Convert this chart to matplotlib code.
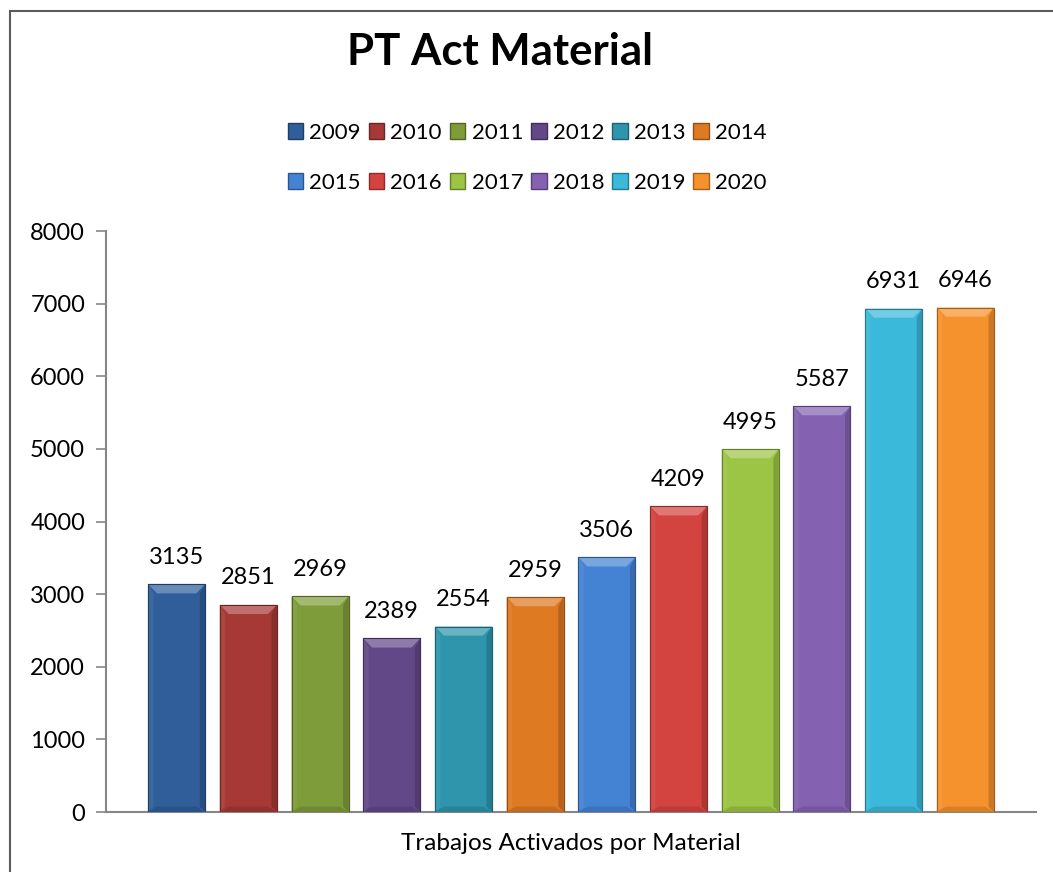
import matplotlib.pyplot as plt
from matplotlib.patches import Polygon, Rectangle, Patch
import matplotlib.colors as mcolors
import numpy as np

plt.rcParams['font.family'] = ['Lato', 'DejaVu Sans']

years = ['2009', '2010', '2011', '2012', '2013', '2014',
         '2015', '2016', '2017', '2018', '2019', '2020']
values = [3135, 2851, 2969, 2389, 2554, 2959, 3506, 4209, 4995, 5587, 6931, 6946]
colors = ['#2F5E9B', '#A63936', '#7F9C3A', '#634887', '#2E95AC', '#DE7A22',
          '#4483D3', '#D34340', '#9CC445', '#8462B1', '#3BB9DA', '#F6922D']
category = 'Trabajos Activados por Material'
title = 'PT Act Material'


def shade(c, f):
    r = np.array(mcolors.to_rgb(c))
    if f > 0:
        r = r + (1 - r) * f
    else:
        r = r * (1 + f)
    return tuple(np.clip(r, 0, 1))


def bevel_bar(ax, x, w, h, c, dx=0.125, dy=125):
    x0, x1 = x - w / 2, x + w / 2
    ax.add_patch(Rectangle((x0, 0), w, h, facecolor=c, edgecolor=shade(c, -0.3), lw=0.8, zorder=2))
    # top facet lighter
    ax.add_patch(Polygon([(x0, h), (x1, h), (x1 - dx, h - dy), (x0 + dx, h - dy)],
                         closed=True, facecolor=shade(c, 0.28), edgecolor='none', zorder=3))
    # bottom facet darker
    ax.add_patch(Polygon([(x0, 0), (x1, 0), (x1 - dx, dy * 0.6), (x0 + dx, dy * 0.6)],
                         closed=True, facecolor=shade(c, -0.12), edgecolor='none', zorder=3))
    # side facets
    ax.add_patch(Polygon([(x0, 0), (x0 + dx * 0.6, dy * 0.6), (x0 + dx * 0.6, h - dy), (x0, h)],
                         closed=True, facecolor=shade(c, 0.06), edgecolor='none', zorder=3))
    ax.add_patch(Polygon([(x1, 0), (x1 - dx * 0.6, dy * 0.6), (x1 - dx * 0.6, h - dy), (x1, h)],
                         closed=True, facecolor=shade(c, -0.18), edgecolor='none', zorder=3))
    ax.add_patch(Rectangle((x0, 0), w, h, facecolor='none', edgecolor=shade(c, -0.35), lw=0.8, zorder=4))


fig = plt.figure(figsize=(10.53, 8.72), dpi=100)
ax = fig.add_axes([106 / 1053, 60 / 872, 930 / 1053, 581 / 872])

xs = np.arange(len(values))
width = 0.795
for x, v, c in zip(xs, values, colors):
    bevel_bar(ax, x, width, v, c)
    ax.annotate(str(v), (x, v), xytext=(0, 19.5), textcoords='offset points',
                ha='center', va='center', fontsize=17, color='black')

ax.set_xlim(-0.985, 11.985)
ax.set_ylim(0, 8000)
ax.set_yticks(np.arange(0, 8001, 1000))
ax.tick_params(axis='y', direction='out', length=7, width=1.2, color='#868686',
               labelsize=17, pad=8)
ax.set_xticks([5.5])
ax.set_xticklabels([category], fontsize=17.5)
ax.tick_params(axis='x', length=0, pad=15)
for s in ['top', 'right']:
    ax.spines[s].set_visible(False)
for s in ['left', 'bottom']:
    ax.spines[s].set_color('#868686')
    ax.spines[s].set_linewidth(1.5)

fig.text(500 / 1053, 1 - 52 / 872, title, ha='center', va='center',
         fontsize=31.5, fontweight='bold')

handles = [Patch(facecolor=c, edgecolor=shade(c, -0.35), label=y) for y, c in zip(years, colors)]
# reorder so rows are 2009-2014, 2015-2020 with ncol=6
order = []
for col in range(6):
    order += [col, col + 6]
leg = fig.legend([handles[i] for i in order], [years[i] for i in order], ncol=6,
                 loc='center', bbox_to_anchor=(527 / 1053, 1 - 158 / 872), frameon=False,
                 fontsize=16, handlelength=0.7, handleheight=0.7, handletextpad=0.28,
                 columnspacing=0.35, labelspacing=1.35)

fig.patches.append(Rectangle((10 / 1053, -0.1), 1.2, 1 - 11 / 872 + 0.1,
                             transform=fig.transFigure, fill=False,
                             edgecolor='#5a5a5a', lw=1.5))

fig.savefig('out.png', dpi=100)
